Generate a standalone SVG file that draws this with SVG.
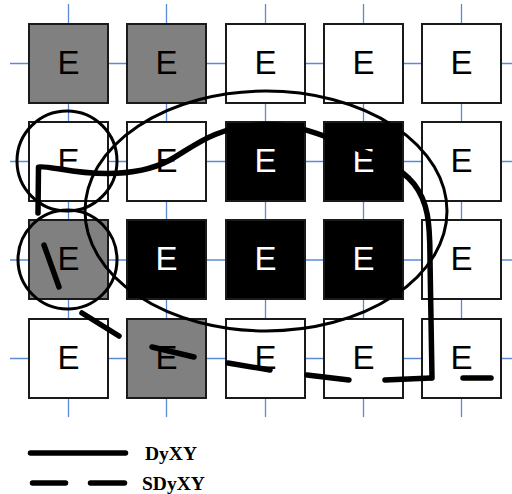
<svg xmlns="http://www.w3.org/2000/svg" width="512" height="494" viewBox="0 0 512 494">
<style>
.grid{stroke:#5b8ad6;stroke-width:1.3;fill:none}
.cell{stroke:#1a1a1a;stroke-width:2}
.w{fill:#ffffff}.g{fill:#808080}.k{fill:#000000}
.lbl{font-family:"Liberation Sans",Arial,sans-serif;font-size:33px;text-anchor:middle;fill:#000}
.lbl.inv{fill:#fff}
.ring{fill:none;stroke:#000;stroke-width:3}
.thick{fill:none;stroke:#000;stroke-width:5.5;stroke-linecap:round;stroke-linejoin:round}
.leg{font-family:"Liberation Serif","Times New Roman",serif;font-weight:bold;font-size:19.5px;fill:#000}
</style>
<rect width="512" height="494" fill="#fff"/>
<g id="grid" class="grid">
<path d="M68.5,4V417M166.5,4V417M265.5,4V417M363.5,4V417M461.5,4V417"/>
<path d="M10,63.5H512M10,161.5H512M10,260H512M10,358.5H512"/>
</g>
<g id="n11"><rect class="cell g" x="29" y="24" width="79" height="79"/><text class="lbl" x="68.5" y="73.5">E</text></g>
<g id="n12"><rect class="cell g" x="127" y="24" width="79" height="79"/><text class="lbl" x="166.5" y="73.5">E</text></g>
<g id="n13"><rect class="cell w" x="226" y="24" width="79" height="79"/><text class="lbl" x="265.5" y="73.5">E</text></g>
<g id="n14"><rect class="cell w" x="324" y="24" width="79" height="79"/><text class="lbl" x="363.5" y="73.5">E</text></g>
<g id="n15"><rect class="cell w" x="422" y="24" width="79" height="79"/><text class="lbl" x="461.5" y="73.5">E</text></g>
<g id="n21"><rect class="cell w" x="29" y="122" width="79" height="79"/><text class="lbl" x="68.5" y="171.5">E</text></g>
<g id="n22"><rect class="cell w" x="127" y="122" width="79" height="79"/><text class="lbl" x="166.5" y="171.5">E</text></g>
<g id="n23"><rect class="cell k" x="226" y="122" width="79" height="79"/><text class="lbl inv" x="265.5" y="171.5">E</text></g>
<g id="n24"><rect class="cell k" x="324" y="122" width="79" height="79"/><text class="lbl inv" x="363.5" y="171.5">E</text></g>
<g id="n25"><rect class="cell w" x="422" y="122" width="79" height="79"/><text class="lbl" x="461.5" y="171.5">E</text></g>
<g id="n31"><rect class="cell g" x="29" y="220" width="79" height="79"/><text class="lbl" x="68.5" y="269.5">E</text></g>
<g id="n32"><rect class="cell k" x="127" y="220" width="79" height="79"/><text class="lbl inv" x="166.5" y="269.5">E</text></g>
<g id="n33"><rect class="cell k" x="226" y="220" width="79" height="79"/><text class="lbl inv" x="265.5" y="269.5">E</text></g>
<g id="n34"><rect class="cell k" x="324" y="220" width="79" height="79"/><text class="lbl inv" x="363.5" y="269.5">E</text></g>
<g id="n35"><rect class="cell w" x="422" y="220" width="79" height="79"/><text class="lbl" x="461.5" y="269.5">E</text></g>
<g id="n41"><rect class="cell w" x="29" y="319" width="79" height="79"/><text class="lbl" x="68.5" y="368.5">E</text></g>
<g id="n42"><rect class="cell g" x="127" y="319" width="79" height="79"/><text class="lbl" x="166.5" y="368.5">E</text></g>
<g id="n43"><rect class="cell w" x="226" y="319" width="79" height="79"/><text class="lbl" x="265.5" y="368.5">E</text></g>
<g id="n44"><rect class="cell w" x="324" y="319" width="79" height="79"/><text class="lbl" x="363.5" y="368.5">E</text></g>
<g id="n45"><rect class="cell w" x="422" y="319" width="79" height="79"/><text class="lbl" x="461.5" y="368.5">E</text></g>
<g id="regions">
<ellipse class="ring" cx="266" cy="211" rx="181" ry="120"/>
<circle class="ring" cx="67" cy="161" r="50"/>
<circle class="ring" cx="67.5" cy="259.5" r="49.5"/>
</g>
<g id="connectors">
<path id="dyxy" class="thick" d="M38,213 L38.5,167 Q40,166 60,169 C100,176 140,176 170,160 C195,146 212,128 260,125 C290,123 312,131 340,142 C370,154 398,164 414,184 C428,202 430,222 430,260 L432,378"/>
<path id="sdyxy" class="thick" d="M44,245 L59,287 M82,313 L119,336 M152,347 L194,357 M228,363 L270,370 M307,375 L349,380 M385,380 L431,378 M463,378 L491,378"/>
</g>
<g id="legend">
<path class="thick" d="M30.5,453 H125.5"/>
<path class="thick" d="M32.5,483 H65.5 M90.5,483 H124.5"/>
<text class="leg" x="145" y="460">DyXY</text>
<text class="leg" x="142" y="490">SDyXY</text>
</g>
</svg>
